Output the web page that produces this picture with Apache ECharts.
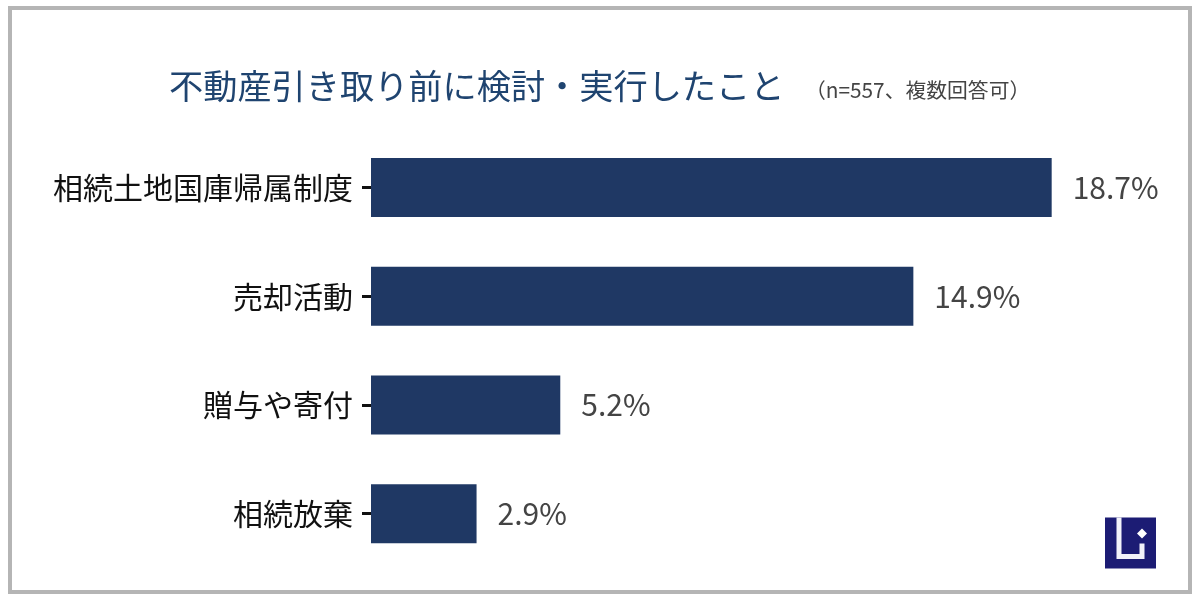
<!DOCTYPE html>
<html>
<head>
<meta charset="utf-8">
<style>
html, body { margin: 0; padding: 0; background: #fff; }
#main { width: 1200px; height: 600px; }
</style>
<script src="https://cdn.jsdelivr.net/npm/echarts@6/dist/echarts.min.js"></script>
</head>
<body>
<div id="main"></div>
<script>
var categories = ['相続土地国庫帰属制度', '売却活動', '贈与や寄付', '相続放棄'];
var values = [18.7, 14.9, 5.2, 2.9];
var titleText = '不動産引き取り前に検討・実行したこと';
var noteText = '（n=557、複数回答可）';
var fontName = '"Noto Sans CJK JP", "Noto Sans", sans-serif';

var myChart = echarts.init(document.getElementById('main'));

var option = {
	backgroundColor: '#ffffff',
	animation: false,
	title: [{
		text: titleText,
		left: 164,
		top: 64,
		textStyle: { color: '#1f4470', fontSize: 34.2, fontWeight: 'normal', fontFamily: fontName }
	}, {
		text: noteText,
		left: 800,
		top: 75,
		textStyle: { color: '#444444', fontSize: 20.8, fontWeight: 'normal', fontFamily: fontName }
	}],
	grid: { left: 371, top: 133, width: 728, height: 435, containLabel: false },
	xAxis: {
		type: 'value',
		min: 0,
		max: 20,
		show: false
	},
	yAxis: {
		type: 'category',
		data: categories,
		inverse: true,
		axisLine: { show: false },
		axisTick: { show: true, alignWithLabel: true, length: 9, lineStyle: { color: '#111111', width: 3 } },
		axisLabel: { color: '#111111', fontSize: 30, margin: 18, fontFamily: fontName }
	},
	series: [{
		type: 'bar',
		data: values,
		barWidth: 59,
		itemStyle: { color: '#1f3864' },
		label: {
			show: true,
			position: 'right',
			distance: 21,
			color: '#444444',
			fontSize: 30,
			fontFamily: fontName,
			formatter: function (p) { return p.value.toFixed(1) + '%'; }
		}
	}],
	graphic: [{
		// 外枠
		type: 'rect',
		shape: { x: 10, y: 8, width: 1180, height: 584 },
		style: { fill: 'none', stroke: '#b5b5b5', lineWidth: 4 }
	}, {
		// ロゴ
		type: 'group',
		left: 1105,
		top: 515,
		children: [{
			type: 'rect',
			shape: { x: 0, y: 0, width: 51, height: 51 },
			style: { fill: '#1c1c74' }
		}, {
			type: 'polyline',
			shape: { points: [[14, 0], [14, 39], [37, 39], [37, 26]] },
			style: { fill: 'none', stroke: '#f2f2fa', lineWidth: 5 }
		}, {
			type: 'polygon',
			shape: { points: [[37, 11], [42, 16], [37, 21], [32, 16]] },
			style: { fill: '#ffffff' }
		}]
	}]
};
myChart.setOption(option);
</script>
</body>
</html>
